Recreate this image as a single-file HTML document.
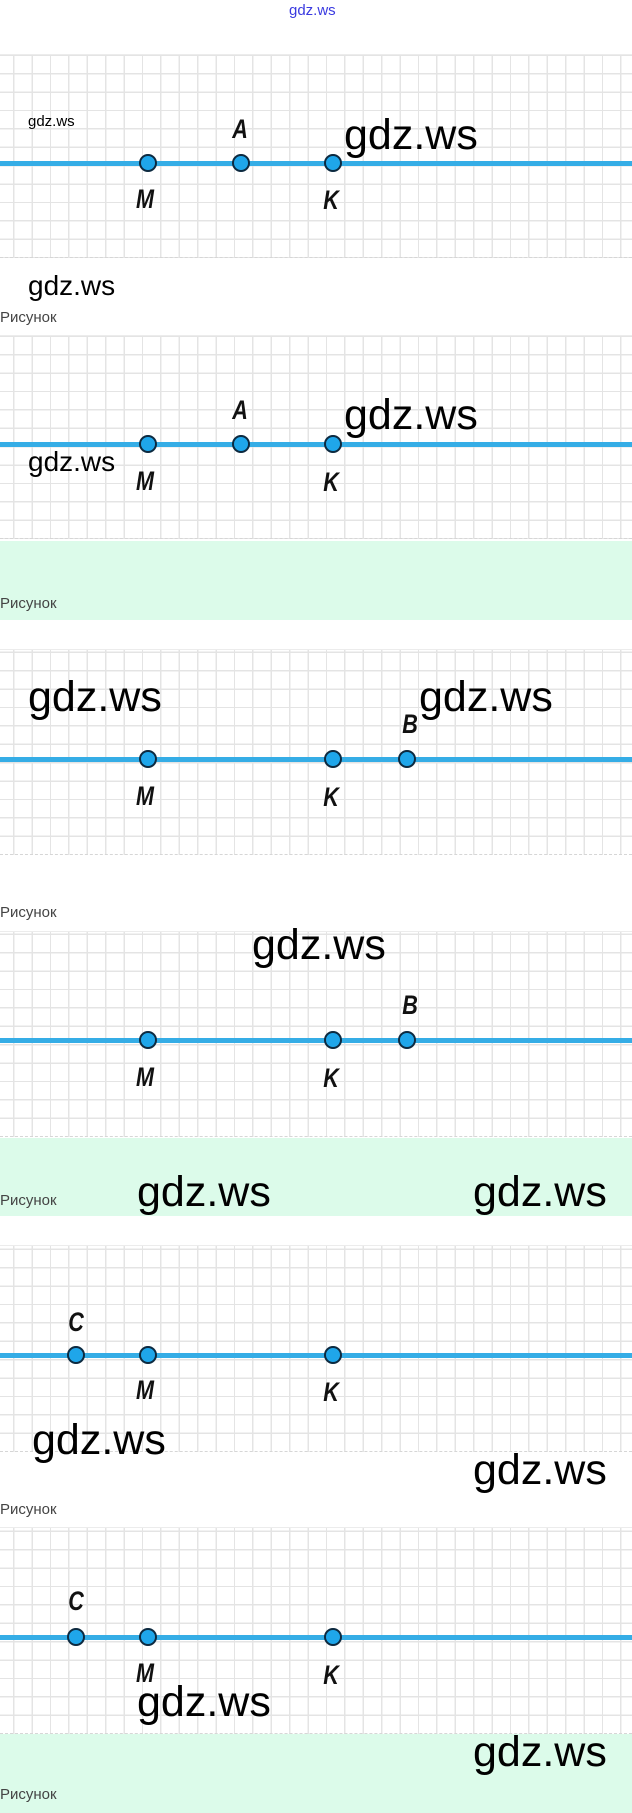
<!DOCTYPE html>
<html><head><meta charset="utf-8"><style>
body{margin:0;width:632px;height:1813px;position:relative;background:#fff;overflow:hidden;font-family:"Liberation Sans",sans-serif}
.g{position:absolute;left:0;width:632px;background-color:#fff;
background-image:repeating-linear-gradient(90deg,transparent 0,transparent 17px,#e4e4e4 17px,#e4e4e4 18.4px),repeating-linear-gradient(0deg,transparent 0,transparent 17px,#e4e4e4 17px,#e4e4e4 18.4px);
background-position:-4px 0;border-bottom:1.5px dashed #d6d6d6;border-top:1px solid #ececec}
.gr{position:absolute;left:0;width:632px;background:#dcfbea}
.ln{position:absolute;left:0;width:632px;height:5px;background:#35ade6}
.d{position:absolute;width:18px;height:18px;border-radius:50%;background:#1fa6ea;border:2px solid #0d2a40;box-sizing:border-box}
.lb{position:absolute;font-weight:bold;font-style:italic;font-size:27px;line-height:27px;color:#111;width:30px;text-align:center;transform:scaleX(.8)}
.w{position:absolute;font-size:43px;line-height:42px;color:#000}
.r{position:absolute;left:0;font-size:15px;color:#444;line-height:16px}
</style></head><body>
<div style="position:absolute;left:289px;top:3px;font-size:15px;color:#3a3ae0;line-height:16px">gdz.ws</div>

<!-- panel 1 -->
<div class="g" style="top:54px;height:202px"></div>
<div class="ln" style="top:161px"></div>
<div class="d" style="left:139px;top:154px"></div>
<div class="d" style="left:232px;top:154px"></div>
<div class="d" style="left:324px;top:154px"></div>
<div class="lb" style="left:225px;top:116px">A</div>
<div class="lb" style="left:130px;top:186px">M</div>
<div class="lb" style="left:316px;top:187px">K</div>
<div style="position:absolute;left:28px;top:114px;font-size:15px;line-height:16px">gdz.ws</div>
<div class="w" style="left:344px;top:114px">gdz.ws</div>
<div style="position:absolute;left:28px;top:272px;font-size:28px;line-height:28px">gdz.ws</div>
<div class="r" style="top:310px">Рисунок</div>

<!-- panel 2 -->
<div class="g" style="top:335px;height:202px"></div>
<div class="ln" style="top:442px"></div>
<div class="d" style="left:139px;top:435px"></div>
<div class="d" style="left:232px;top:435px"></div>
<div class="d" style="left:324px;top:435px"></div>
<div class="lb" style="left:225px;top:397px">A</div>
<div class="lb" style="left:130px;top:468px">M</div>
<div class="lb" style="left:316px;top:469px">K</div>
<div style="position:absolute;left:28px;top:448px;font-size:28px;line-height:28px">gdz.ws</div>
<div class="w" style="left:344px;top:394px">gdz.ws</div>
<div class="gr" style="top:541px;height:79px"></div>
<div class="r" style="top:596px">Рисунок</div>

<!-- panel 3 -->
<div class="g" style="top:649px;height:204px"></div>
<div class="ln" style="top:757px"></div>
<div class="d" style="left:139px;top:750px"></div>
<div class="d" style="left:324px;top:750px"></div>
<div class="d" style="left:398px;top:750px"></div>
<div class="lb" style="left:395px;top:711px">B</div>
<div class="lb" style="left:130px;top:783px">M</div>
<div class="lb" style="left:316px;top:784px">K</div>
<div class="w" style="left:28px;top:676px">gdz.ws</div>
<div class="w" style="left:419px;top:676px">gdz.ws</div>
<div class="r" style="top:905px">Рисунок</div>

<!-- panel 4 -->
<div class="g" style="top:931px;height:204px"></div>
<div class="ln" style="top:1038px"></div>
<div class="d" style="left:139px;top:1031px"></div>
<div class="d" style="left:324px;top:1031px"></div>
<div class="d" style="left:398px;top:1031px"></div>
<div class="lb" style="left:395px;top:992px">B</div>
<div class="lb" style="left:130px;top:1064px">M</div>
<div class="lb" style="left:316px;top:1065px">K</div>
<div class="w" style="left:252px;top:924px">gdz.ws</div>
<div class="gr" style="top:1138px;height:78px"></div>
<div class="r" style="top:1193px">Рисунок</div>
<div class="w" style="left:137px;top:1171px">gdz.ws</div>
<div class="w" style="left:473px;top:1171px">gdz.ws</div>

<!-- panel 5 -->
<div class="g" style="top:1245px;height:205px"></div>
<div class="ln" style="top:1353px"></div>
<div class="d" style="left:67px;top:1346px"></div>
<div class="d" style="left:139px;top:1346px"></div>
<div class="d" style="left:324px;top:1346px"></div>
<div class="lb" style="left:61px;top:1309px">C</div>
<div class="lb" style="left:130px;top:1377px">M</div>
<div class="lb" style="left:316px;top:1379px">K</div>
<div class="w" style="left:32px;top:1419px">gdz.ws</div>
<div class="w" style="left:473px;top:1449px">gdz.ws</div>
<div class="r" style="top:1502px">Рисунок</div>

<!-- panel 6 -->
<div class="g" style="top:1527px;height:205px"></div>
<div class="ln" style="top:1635px"></div>
<div class="d" style="left:67px;top:1628px"></div>
<div class="d" style="left:139px;top:1628px"></div>
<div class="d" style="left:324px;top:1628px"></div>
<div class="lb" style="left:61px;top:1588px">C</div>
<div class="lb" style="left:130px;top:1660px">M</div>
<div class="lb" style="left:316px;top:1662px">K</div>
<div class="w" style="left:137px;top:1681px">gdz.ws</div>
<div class="gr" style="top:1734px;height:79px"></div>
<div class="w" style="left:473px;top:1731px">gdz.ws</div>
<div class="r" style="top:1787px">Рисунок</div>
</body></html>
